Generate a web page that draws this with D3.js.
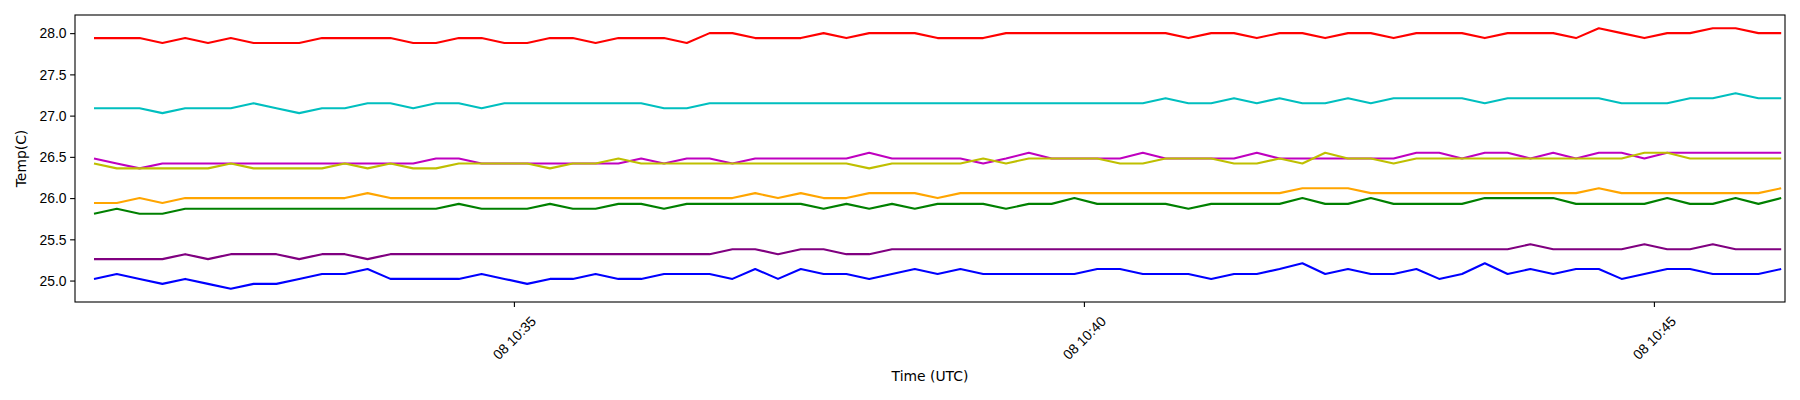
<!doctype html>
<html lang="en">
<head>
<meta charset="utf-8">
<title>Temp(C)</title>
<script src="https://d3js.org/d3.v7.min.js"></script>
<style>
  body { margin: 0; background: #fff; }
  svg { display: block; font-family: "DejaVu Sans", sans-serif; }
  .tick text { font-size: 13.9px; fill: #000; }
  .tick line { stroke: #000; stroke-width: 1.1; }
</style>
</head>
<body>
<div id="chart"></div>
<script>
// sample times (UTC), one every ~12 s
var day = "2024-05-08";
var times = [
  "10:31:19","10:31:31","10:31:43","10:31:55",
  "10:32:07","10:32:19","10:32:31","10:32:43","10:32:55",
  "10:33:07","10:33:19","10:33:31","10:33:43","10:33:55",
  "10:34:07","10:34:19","10:34:31","10:34:43","10:34:55",
  "10:35:07","10:35:19","10:35:31","10:35:43","10:35:55",
  "10:36:07","10:36:19","10:36:31","10:36:43","10:36:55",
  "10:37:07","10:37:19","10:37:31","10:37:43","10:37:55",
  "10:38:07","10:38:19","10:38:31","10:38:43","10:38:55",
  "10:39:07","10:39:19","10:39:31","10:39:43","10:39:55",
  "10:40:07","10:40:19","10:40:31","10:40:43","10:40:55",
  "10:41:07","10:41:19","10:41:31","10:41:43","10:41:55",
  "10:42:07","10:42:19","10:42:31","10:42:43","10:42:55",
  "10:43:07","10:43:19","10:43:31","10:43:43","10:43:55",
  "10:44:07","10:44:19","10:44:31","10:44:43","10:44:55",
  "10:45:07","10:45:19","10:45:31","10:45:43","10:45:55",
  "10:46:07"];

var red = [27.94,27.94,27.94,27.88,27.94,27.88,27.94,27.88,27.88,27.88,
  27.94,27.94,27.94,27.94,27.88,27.88,27.94,27.94,27.88,27.88,
  27.94,27.94,27.88,27.94,27.94,27.94,27.88,28.00,28.00,27.94,
  27.94,27.94,28.00,27.94,28.00,28.00,28.00,27.94,27.94,27.94,
  28.00,28.00,28.00,28.00,28.00,28.00,28.00,28.00,27.94,28.00,
  28.00,27.94,28.00,28.00,27.94,28.00,28.00,27.94,28.00,28.00,
  28.00,27.94,28.00,28.00,28.00,27.94,28.06,28.00,27.94,28.00,
  28.00,28.06,28.06,28.00,28.00];

var cyan = [27.09,27.09,27.09,27.03,27.09,27.09,27.09,27.15,27.09,27.03,
  27.09,27.09,27.15,27.15,27.09,27.15,27.15,27.09,27.15,27.15,
  27.15,27.15,27.15,27.15,27.15,27.09,27.09,27.15,27.15,27.15,
  27.15,27.15,27.15,27.15,27.15,27.15,27.15,27.15,27.15,27.15,
  27.15,27.15,27.15,27.15,27.15,27.15,27.15,27.21,27.15,27.15,
  27.21,27.15,27.21,27.15,27.15,27.21,27.15,27.21,27.21,27.21,
  27.21,27.15,27.21,27.21,27.21,27.21,27.21,27.15,27.15,27.15,
  27.21,27.21,27.27,27.21,27.21];

var magenta = [26.48,26.42,26.36,26.42,26.42,26.42,26.42,26.42,26.42,26.42,
  26.42,26.42,26.42,26.42,26.42,26.48,26.48,26.42,26.42,26.42,
  26.42,26.42,26.42,26.42,26.48,26.42,26.48,26.48,26.42,26.48,
  26.48,26.48,26.48,26.48,26.55,26.48,26.48,26.48,26.48,26.42,
  26.48,26.55,26.48,26.48,26.48,26.48,26.55,26.48,26.48,26.48,
  26.48,26.55,26.48,26.48,26.48,26.48,26.48,26.48,26.55,26.55,
  26.48,26.55,26.55,26.48,26.55,26.48,26.55,26.55,26.48,26.55,
  26.55,26.55,26.55,26.55,26.55];

var yellow = [26.42,26.36,26.36,26.36,26.36,26.36,26.42,26.36,26.36,26.36,
  26.36,26.42,26.36,26.42,26.36,26.36,26.42,26.42,26.42,26.42,
  26.36,26.42,26.42,26.48,26.42,26.42,26.42,26.42,26.42,26.42,
  26.42,26.42,26.42,26.42,26.36,26.42,26.42,26.42,26.42,26.48,
  26.42,26.48,26.48,26.48,26.48,26.42,26.42,26.48,26.48,26.48,
  26.42,26.42,26.48,26.42,26.55,26.48,26.48,26.42,26.48,26.48,
  26.48,26.48,26.48,26.48,26.48,26.48,26.48,26.48,26.55,26.55,
  26.48,26.48,26.48,26.48,26.48];

var orange = [25.94,25.94,26.00,25.94,26.00,26.00,26.00,26.00,26.00,26.00,
  26.00,26.00,26.06,26.00,26.00,26.00,26.00,26.00,26.00,26.00,
  26.00,26.00,26.00,26.00,26.00,26.00,26.00,26.00,26.00,26.06,
  26.00,26.06,26.00,26.00,26.06,26.06,26.06,26.00,26.06,26.06,
  26.06,26.06,26.06,26.06,26.06,26.06,26.06,26.06,26.06,26.06,
  26.06,26.06,26.06,26.12,26.12,26.12,26.06,26.06,26.06,26.06,
  26.06,26.06,26.06,26.06,26.06,26.06,26.12,26.06,26.06,26.06,
  26.06,26.06,26.06,26.06,26.12];

var green = [25.81,25.87,25.81,25.81,25.87,25.87,25.87,25.87,25.87,25.87,
  25.87,25.87,25.87,25.87,25.87,25.87,25.93,25.87,25.87,25.87,
  25.93,25.87,25.87,25.93,25.93,25.87,25.93,25.93,25.93,25.93,
  25.93,25.93,25.87,25.93,25.87,25.93,25.87,25.93,25.93,25.93,
  25.87,25.93,25.93,26.00,25.93,25.93,25.93,25.93,25.87,25.93,
  25.93,25.93,25.93,26.00,25.93,25.93,26.00,25.93,25.93,25.93,
  25.93,26.00,26.00,26.00,26.00,25.93,25.93,25.93,25.93,26.00,
  25.93,25.93,26.00,25.93,26.00];

var purple = [25.26,25.26,25.26,25.26,25.32,25.26,25.32,25.32,25.32,25.26,
  25.32,25.32,25.26,25.32,25.32,25.32,25.32,25.32,25.32,25.32,
  25.32,25.32,25.32,25.32,25.32,25.32,25.32,25.32,25.38,25.38,
  25.32,25.38,25.38,25.32,25.32,25.38,25.38,25.38,25.38,25.38,
  25.38,25.38,25.38,25.38,25.38,25.38,25.38,25.38,25.38,25.38,
  25.38,25.38,25.38,25.38,25.38,25.38,25.38,25.38,25.38,25.38,
  25.38,25.38,25.38,25.44,25.38,25.38,25.38,25.38,25.44,25.38,
  25.38,25.44,25.38,25.38,25.38];

var blue = [25.02,25.08,25.02,24.96,25.02,24.96,24.90,24.96,24.96,25.02,
  25.08,25.08,25.14,25.02,25.02,25.02,25.02,25.08,25.02,24.96,
  25.02,25.02,25.08,25.02,25.02,25.08,25.08,25.08,25.02,25.14,
  25.02,25.14,25.08,25.08,25.02,25.08,25.14,25.08,25.14,25.08,
  25.08,25.08,25.08,25.08,25.14,25.14,25.08,25.08,25.08,25.02,
  25.08,25.08,25.14,25.21,25.08,25.14,25.08,25.08,25.14,25.02,
  25.08,25.21,25.08,25.14,25.08,25.14,25.14,25.02,25.08,25.14,
  25.14,25.08,25.08,25.08,25.14];

var yTicks = [25.0, 25.5, 26.0, 26.5, 27.0, 27.5, 28.0];
var xLabel = "Time (UTC)", yLabel = "Temp(C)";

// draw order matters only where magenta/yellow overlap
var series = [
  {values: red, color: "#ff0000"},
  {values: cyan, color: "#00bfbf"},
  {values: magenta, color: "#bf00bf"},
  {values: yellow, color: "#bfbf00"},
  {values: orange, color: "#ffa500"},
  {values: green, color: "#008000"},
  {values: purple, color: "#800080"},
  {values: blue, color: "#0000ff"}
];

var W = 1800, H = 400;
var margin = {top: 15, right: 15, bottom: 98, left: 75};
var w = W - margin.left - margin.right, h = H - margin.top - margin.bottom;

var parse = d3.utcParse("%Y-%m-%d %H:%M:%S");
var dates = times.map(function(t) { return parse(day + " " + t); });

var x = d3.scaleUtc()
    .domain([parse(day + " 10:31:09"), parse(day + " 10:46:09")])
    .range([0, w]);
var y = d3.scaleLinear().domain([24.74, 28.22]).range([h, 0]);

var svg = d3.select("#chart").append("svg").attr("width", W).attr("height", H);
var g = svg.append("g").attr("transform", "translate(" + margin.left + "," + margin.top + ")");

var line = d3.line()
    .x(function(d, i) { return x(dates[i]); })
    .y(function(d) { return y(d); });

g.append("g").selectAll("path").data(series).enter().append("path")
    .attr("d", function(s) { return line(s.values); })
    .attr("fill", "none")
    .attr("stroke", function(s) { return s.color; })
    .attr("stroke-width", 2.1)
    .attr("stroke-linejoin", "round")
    .attr("stroke-linecap", "butt");

// y axis
var yAxis = g.append("g").call(d3.axisLeft(y).tickValues(yTicks)
    .tickFormat(d3.format(".1f")).tickSize(4.9).tickSizeOuter(0).tickPadding(3.5));
yAxis.select(".domain").remove();
yAxis.selectAll(".tick text").attr("dy", "0.34em");

// x axis, labels rotated 45deg and centred under the tick
var xAxis = g.append("g").attr("transform", "translate(0," + h + ")")
    .call(d3.axisBottom(x).ticks(d3.utcMinute.every(5))
    .tickFormat(d3.utcFormat("%d %H:%M")).tickSize(4.9).tickSizeOuter(0));
xAxis.select(".domain").remove();
xAxis.selectAll(".tick text")
    .attr("y", 0).attr("dy", "0.35em")
    .attr("text-anchor", "middle")
    .attr("transform", "translate(0,36) rotate(-45)");

// frame
g.append("rect").attr("width", w).attr("height", h)
    .attr("fill", "none").attr("stroke", "#000").attr("stroke-width", 1.1);

svg.append("text")
    .attr("x", margin.left + w / 2).attr("y", 381)
    .attr("text-anchor", "middle").attr("font-size", "13.9px")
    .text(xLabel);

svg.append("text")
    .attr("transform", "translate(21," + (margin.top + h / 2) + ") rotate(-90)")
    .attr("dy", "0.35em")
    .attr("text-anchor", "middle").attr("font-size", "13.9px")
    .text(yLabel);
</script>
</body>
</html>
